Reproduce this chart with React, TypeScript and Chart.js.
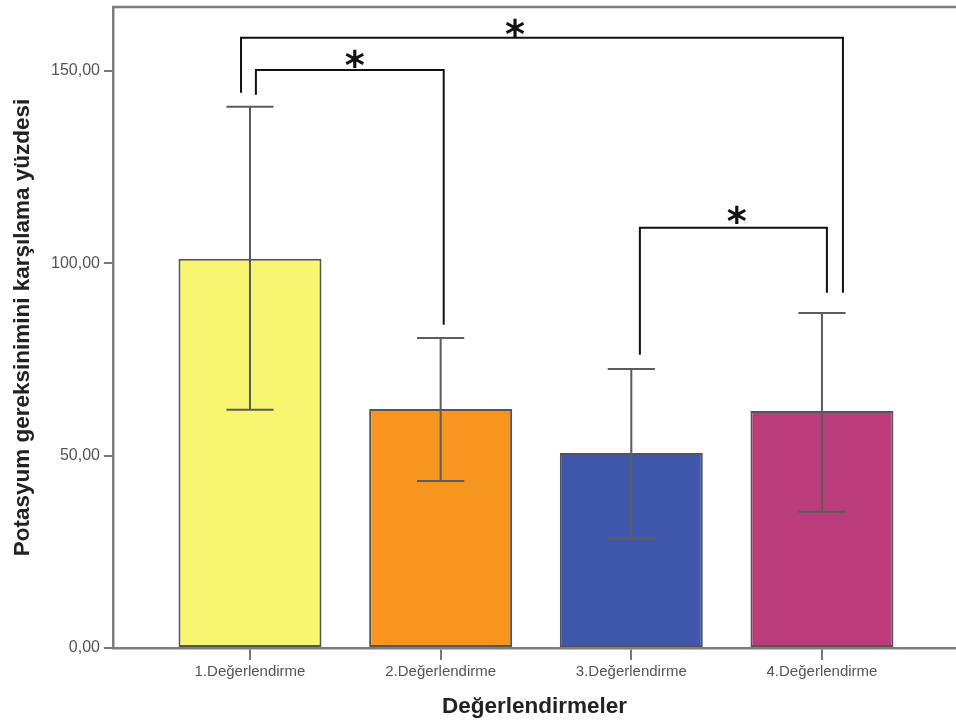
import React, { useEffect, useRef } from "react";
import { Chart, registerables } from "chart.js";

Chart.register(...registerables);

// ---- data ----
const categories = ["1.Değerlendirme", "2.Değerlendirme", "3.Değerlendirme", "4.Değerlendirme"];
const categoryPositions = [1, 2, 3, 4];
const means = [101.2, 62.1, 50.7, 61.6];
const errLow = [61.9, 43.4, 28.6, 35.4];
const errHigh = [140.7, 80.6, 72.5, 87.1];
const barColors = ["#F8F571", "#F7961E", "#3F57AA", "#BB3C7B"];
const yTicks = [0, 50, 100, 150];
const yTickLabels = ["0,00", "50,00", "100,00", "150,00"];
const xTitle = "Değerlendirmeler";
const yTitle = "Potasyum gereksinimini karşılama yüzdesi";

// significance brackets (data coordinates)
const bracketLeftX = [0.953, 1.031, 3.045];
const bracketRightX = [4.11, 2.016, 4.026];
const bracketLevel = [158.6, 150.2, 109.2];
const bracketLeftEnd = [144.3, 143.8, 76.2];
const bracketRightEnd = [92.3, 84.0, 92.3];
const starX = [2.39, 1.55, 3.553];
const starY = [161.4, 153.1, 112.7];
const starLabel = "*";

const FONT = "'Liberation Sans', Arial, sans-serif";
const STAR_FONT = "'DejaVu Sans', sans-serif";

const framePlugin = {
  id: "frameTop",
  afterDraw(chart: any) {
    const { ctx, chartArea } = chart;
    ctx.save();
    ctx.strokeStyle = "#7d7d7d";
    ctx.lineWidth = 2.5;
    ctx.beginPath();
    ctx.moveTo(chartArea.left - 1, chartArea.top);
    ctx.lineTo(chartArea.right, chartArea.top);
    ctx.stroke();
    ctx.restore();
  },
};

const errorBarPlugin = {
  id: "errorBars",
  afterDatasetsDraw(chart: any) {
    const { ctx } = chart;
    const meta = chart.getDatasetMeta(0);
    const ys = chart.scales.y;
    ctx.save();
    ctx.strokeStyle = "#5c5c5c";
    ctx.lineWidth = 2;
    meta.data.forEach((bar: any, i: number) => {
      const x = bar.x;
      const half = bar.width * 0.165;
      const yl = ys.getPixelForValue(errLow[i]);
      const yh = ys.getPixelForValue(errHigh[i]);
      ctx.beginPath();
      ctx.moveTo(x, yl);
      ctx.lineTo(x, yh);
      ctx.moveTo(x - half, yl);
      ctx.lineTo(x + half, yl);
      ctx.moveTo(x - half, yh);
      ctx.lineTo(x + half, yh);
      ctx.stroke();
    });
    ctx.restore();
  },
};

const bracketPlugin = {
  id: "brackets",
  afterDraw(chart: any) {
    const { ctx } = chart;
    const xs = chart.scales.x;
    const ys = chart.scales.y;
    ctx.save();
    ctx.strokeStyle = "#111";
    ctx.lineWidth = 2;
    ctx.lineJoin = "miter";
    for (let i = 0; i < bracketLevel.length; i++) {
      const x1 = xs.getPixelForValue(bracketLeftX[i]);
      const x2 = xs.getPixelForValue(bracketRightX[i]);
      const yLev = ys.getPixelForValue(bracketLevel[i]);
      const y1 = ys.getPixelForValue(bracketLeftEnd[i]);
      const y2 = ys.getPixelForValue(bracketRightEnd[i]);
      ctx.beginPath();
      ctx.moveTo(x1, y1);
      ctx.lineTo(x1, yLev);
      ctx.lineTo(x2, yLev);
      ctx.lineTo(x2, y2);
      ctx.stroke();
    }
    // stars
    ctx.fillStyle = "#111";
    ctx.textAlign = "center";
    ctx.textBaseline = "alphabetic";
    ctx.font = `bold 100px ${STAR_FONT}`;
    const m = ctx.measureText(starLabel);
    const h = m.actualBoundingBoxAscent + m.actualBoundingBoxDescent;
    const size = (18 / h) * 100;
    ctx.font = `bold ${size}px ${STAR_FONT}`;
    const m2 = ctx.measureText(starLabel);
    const mid = (m2.actualBoundingBoxAscent - m2.actualBoundingBoxDescent) / 2;
    for (let i = 0; i < starX.length; i++) {
      const sx = xs.getPixelForValue(starX[i]);
      const sy = ys.getPixelForValue(starY[i]);
      ctx.fillText(starLabel, sx, sy + mid);
    }
    ctx.restore();
  },
};

export default function App() {
  const ref = useRef<HTMLCanvasElement | null>(null);

  useEffect(() => {
    if (!ref.current) return;
    const chart = new Chart(ref.current, {
      type: "bar",
      data: {
        datasets: [
          {
            data: categoryPositions.map((x, i) => ({ x, y: means[i] })),
            backgroundColor: barColors,
            borderColor: "#555",
            borderWidth: 2,
            borderSkipped: false,
            categoryPercentage: 1,
            barPercentage: 0.75,
          },
        ],
      },
      options: {
        animation: false,
        responsive: false,
        maintainAspectRatio: false,
        layout: { padding: { top: 7, left: 0, right: 0, bottom: 0 } },
        plugins: { legend: { display: false }, tooltip: { enabled: false } },
        scales: {
          x: {
            type: "linear",
            min: 0.2815,
            max: 4.703,
            offset: false,
            afterBuildTicks: (scale: any) => {
              scale.ticks = categoryPositions.map((v) => ({ value: v }));
            },
            afterFit: (scale: any) => {
              scale.height = 78;
              scale.paddingLeft = 0;
              scale.paddingRight = 0;
              scale.paddingTop = 0;
              scale.paddingBottom = 0;
            },
            ticks: {
              autoSkip: false,
              maxRotation: 0,
              padding: 3,
              color: "#555",
              font: { family: FONT, size: 15 },
              callback: (v: any) => {
                const idx = categoryPositions.indexOf(Number(v));
                return idx >= 0 ? categories[idx] : "";
              },
            },
            grid: {
              offset: false,
              drawOnChartArea: false,
              drawTicks: true,
              tickLength: 12,
              color: "#777",
              lineWidth: 2,
            },
            border: { display: true, color: "#7d7d7d", width: 2.5 },
            title: {
              display: true,
              text: xTitle,
              color: "#222",
              font: { family: FONT, size: 22.5, weight: "bold", lineHeight: 1.2 },
              padding: { top: 0, bottom: 5.5 },
            },
          },
          y: {
            type: "linear",
            min: 0,
            max: 166.6,
            afterBuildTicks: (scale: any) => {
              scale.ticks = yTicks.map((v) => ({ value: v }));
            },
            afterFit: (scale: any) => {
              scale.width = 113;
              scale.paddingLeft = 0;
              scale.paddingRight = 0;
              scale.paddingTop = 0;
              scale.paddingBottom = 0;
            },
            ticks: {
              padding: 4,
              color: "#555",
              font: { family: FONT, size: 16 },
              callback: (v: any) => {
                const idx = yTicks.indexOf(Number(v));
                return idx >= 0 ? yTickLabels[idx] : "";
              },
            },
            grid: {
              drawOnChartArea: false,
              drawTicks: true,
              tickLength: 9,
              color: "#777",
              lineWidth: 2,
            },
            border: { display: true, color: "#7d7d7d", width: 2.5 },
            title: {
              display: true,
              text: yTitle,
              color: "#222",
              font: { family: FONT, size: 22.5, weight: "bold", lineHeight: 1.2 },
              padding: { top: 9, bottom: 0 },
            },
          },
        },
      },
      plugins: [framePlugin, errorBarPlugin, bracketPlugin],
    } as any);
    return () => chart.destroy();
  }, []);

  return (
    <div style={{ position: "fixed", left: 0, top: 0, width: 956, height: 726, background: "#fff" }}>
      <canvas ref={ref} width={956} height={726} style={{ display: "block" }} />
    </div>
  );
}
